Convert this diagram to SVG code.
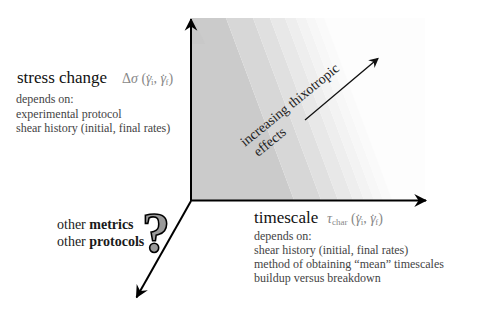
<svg xmlns="http://www.w3.org/2000/svg" width="479" height="323" viewBox="0 0 479 323">
<style>
text{font-family:"Liberation Serif","DejaVu Serif",serif;}
.title{font-size:17px;fill:#111;}
.math{font-size:14px;fill:#888;}
.dep{font-size:12px;fill:#444;}
.oth{font-size:14px;fill:#1a1a1a;}
.axis{stroke:#000;stroke-width:2;fill:none;}
.thin{stroke:#111;stroke-width:1.3;fill:none;}
</style>
<defs>
<marker id="ah" markerUnits="userSpaceOnUse" markerWidth="16" markerHeight="16" viewBox="-13 -7 15 14" refX="0" refY="0" orient="auto">
<path d="M1,0 L-11,-6 L-7,0 L-11,6 Z" fill="#000"/>
</marker>
<marker id="ahs" markerUnits="userSpaceOnUse" markerWidth="12" markerHeight="12" viewBox="-10 -5 11 10" refX="0" refY="0" orient="auto">
<path d="M1,0 L-8,-4.5 L-5,0 L-8,4.5 Z" fill="#111"/>
</marker>
<clipPath id="clip"><rect x="192" y="18" width="233" height="182"/></clipPath>
</defs>

<g id="shading" clip-path="url(#clip)">
<rect x="192" y="18" width="233" height="182" fill="#fdfdfd"/>
<polygon points="150,18 226,18 294,200 150,200" fill="#cbcbcb"/>
<polygon points="226,18 253,18 321,200 294,200" fill="#d7d7d7"/>
<polygon points="253,18 270,18 338,200 321,200" fill="#e0e0e0"/>
<polygon points="270,18 285,18 353,200 338,200" fill="#e8e8e8"/>
<polygon points="285,18 296,18 364,200 353,200" fill="#eeeeee"/>
<polygon points="296,18 306,18 374,200 364,200" fill="#f3f3f3"/>
<polygon points="306,18 315,18 383,200 374,200" fill="#f7f7f7"/>
<polygon points="315,18 324,18 392,200 383,200" fill="#fafafa"/>
<polygon points="150,18 193,18 205,44 150,44" fill="#c6c6c6" opacity="0.5"/>
</g>

<g id="connectors">
<line id="axis-stress" class="axis" x1="191" y1="201" x2="191" y2="19" marker-end="url(#ah)"/>
<line id="axis-time" class="axis" x1="190" y1="200.5" x2="426" y2="200.5" marker-end="url(#ah)"/>
<line id="axis-other" class="axis" x1="191" y1="201" x2="136.5" y2="297.4" marker-end="url(#ah)"/>
<line id="arrow-thixo" class="thin" x1="305" y1="120" x2="378" y2="58.5" marker-end="url(#ahs)"/>
</g>

<g id="node-stress">
<text class="title" x="17" y="83">stress change</text>
<text class="math" x="122" y="83">Δ<tspan font-style="italic">σ</tspan> (<tspan font-style="italic">γ</tspan><tspan dx="-5.2" dy="1">˙</tspan><tspan font-size="9" dy="1">i</tspan><tspan dy="-2">, </tspan><tspan font-style="italic">γ</tspan><tspan dx="-5.2" dy="1">˙</tspan><tspan font-size="9" dy="1">f</tspan><tspan dy="-2">)</tspan></text>
<text class="dep" x="16" y="103">depends on:</text>
<text class="dep" x="16" y="117.5">experimental protocol</text>
<text class="dep" x="16" y="132">shear history (initial, final rates)</text>
</g>

<g id="node-timescale">
<text class="title" x="254" y="223">timescale</text>
<text class="math" x="327" y="223"><tspan font-style="italic">τ</tspan><tspan font-size="9" dy="2">char</tspan><tspan dy="-2"> (</tspan><tspan font-style="italic">γ</tspan><tspan dx="-5.2" dy="1">˙</tspan><tspan font-size="9" dy="1">i</tspan><tspan dy="-2">, </tspan><tspan font-style="italic">γ</tspan><tspan dx="-5.2" dy="1">˙</tspan><tspan font-size="9" dy="1">f</tspan><tspan dy="-2">)</tspan></text>
<text class="dep" x="254" y="240">depends on:</text>
<text class="dep" x="254" y="254">shear history (initial, final rates)</text>
<text class="dep" x="254" y="268">method of obtaining “mean” timescales</text>
<text class="dep" x="254" y="282">buildup versus breakdown</text>
</g>

<g id="node-thixotropic">
<g transform="translate(245,147) rotate(-39)">
<text x="0" y="0" font-size="14" fill="#222">increasing thixotropic</text>
<text x="4" y="16" font-size="14" fill="#222">effects</text>
</g>
</g>

<g id="node-other">
<text class="oth" x="57" y="229">other <tspan font-weight="bold">metrics</tspan></text>
<text class="oth" x="57" y="246">other <tspan font-weight="bold">protocols</tspan></text>
<text x="142" y="252" font-size="56" font-weight="bold" fill="#9a9a9a" stroke="#000" stroke-width="1.6">?</text>
</g>
</svg>
